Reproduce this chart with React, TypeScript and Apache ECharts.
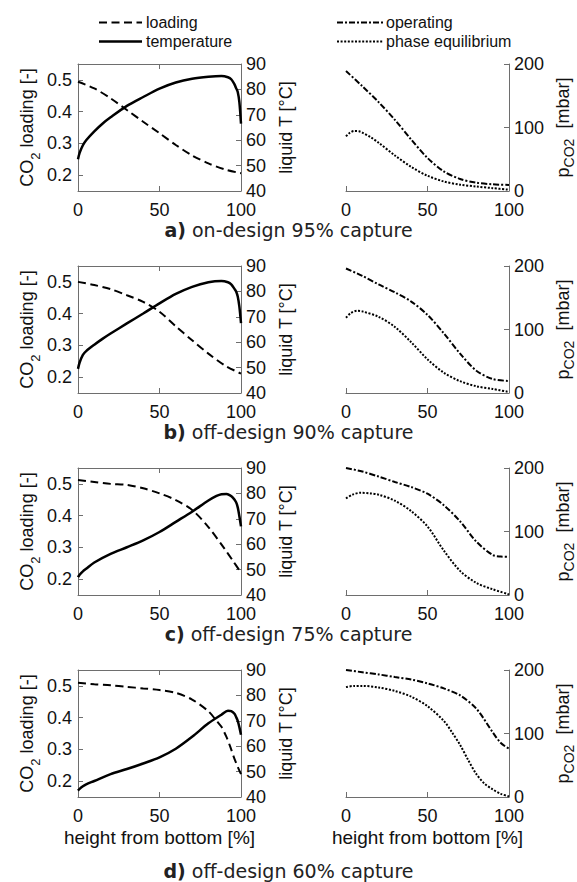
import React, { useEffect, useRef } from 'react';
import * as echarts from 'echarts';

// ---------- data ----------
const loadingTicks = [0.2, 0.3, 0.4, 0.5];

// panel a) on-design 95% capture
const loadX_a = [0, 10, 20, 30, 40, 50, 60, 70, 80, 90, 100];
const load_a = [0.494, 0.473, 0.442, 0.405, 0.368, 0.332, 0.295, 0.262, 0.237, 0.218, 0.206];
const tempX_a = [0, 1, 3, 5, 10, 15, 20, 30, 40, 50, 60, 70, 80, 88, 92, 94, 96, 97, 98, 99, 100];
const temp_a = [52.5, 55, 58, 60, 63.5, 66.5, 69, 73.5, 77, 80.3, 82.7, 84.2, 85, 85.3, 84.8, 84, 82, 80.5, 79, 75, 66.5];
const opX_a = [0, 10, 20, 30, 40, 50, 60, 70, 80, 90, 100];
const op_a = [189, 165, 140, 112, 81, 52, 31, 19, 13, 10.5, 9.5];
const eqX_a = [0, 2, 5, 8, 10, 15, 20, 30, 40, 50, 60, 70, 80, 90, 100];
const eq_a = [86, 91, 94.5, 94, 92, 85, 76, 56, 38, 24, 15, 10, 7, 4.5, 2];

// panel b) off-design 90% capture
const loadX_b = [0, 10, 20, 30, 40, 50, 60, 70, 80, 90, 100];
const load_b = [0.5, 0.49, 0.477, 0.458, 0.437, 0.406, 0.36, 0.316, 0.274, 0.237, 0.211];
const tempX_b = [0, 1, 3, 5, 10, 15, 20, 30, 40, 50, 60, 70, 80, 88, 92, 94, 96, 97, 98, 99, 100];
const temp_b = [49.5, 52, 55, 56.5, 59, 61.3, 63.4, 67.4, 71.3, 75.3, 79, 81.8, 83.6, 84.1, 83.6, 82.8, 81, 80, 78, 74, 67.5];
const opX_b = [0, 10, 20, 30, 40, 50, 60, 70, 80, 90, 100];
const op_b = [196, 184.5, 171, 158.5, 144, 123, 94, 62, 35, 22, 19];
const eqX_b = [0, 3, 7, 10, 20, 30, 40, 50, 60, 70, 80, 90, 100];
const eq_b = [118.5, 126, 129.5, 128.5, 120, 104, 80, 53, 32, 18.6, 10.6, 6.4, 1.6];

// panel c) off-design 75% capture
const loadX_c = [0, 10, 20, 30, 40, 50, 60, 70, 80, 90, 95, 100];
const load_c = [0.512, 0.506, 0.5, 0.497, 0.486, 0.47, 0.449, 0.418, 0.364, 0.295, 0.258, 0.22];
const tempX_c = [0, 1, 3, 5, 10, 20, 30, 40, 50, 60, 70, 80, 85, 88, 91, 93, 95, 97, 98, 99, 100];
const temp_c = [47, 48, 49.3, 50.3, 52.8, 56.2, 58.8, 61.5, 64.8, 68.8, 72.8, 77.2, 79, 79.7, 79.8, 79.3, 78.3, 76.5, 74.5, 71, 67];
const opX_c = [0, 10, 20, 30, 40, 50, 60, 70, 80, 90, 95, 100];
const op_c = [200, 194.5, 186.5, 178, 170, 159.5, 141.5, 116, 84, 63, 60.5, 60];
const eqX_c = [0, 4, 9, 15, 20, 30, 40, 50, 60, 70, 80, 90, 100];
const eq_c = [152, 158, 161, 160, 158, 148.5, 132, 108, 70, 38, 19, 9, 1];

// panel d) off-design 60% capture
const loadX_d = [0, 10, 20, 30, 40, 50, 60, 70, 80, 85, 88, 91, 93.5, 96, 98, 100];
const load_d = [0.51, 0.505, 0.502, 0.497, 0.492, 0.487, 0.478, 0.457, 0.42, 0.39, 0.371, 0.34, 0.307, 0.27, 0.245, 0.222];
const tempX_d = [0, 1, 3, 5, 10, 20, 30, 40, 50, 60, 70, 80, 88, 92, 94, 96, 97, 98, 99, 100];
const temp_d = [42.5, 43.2, 44.2, 45, 46.3, 49, 51, 53.2, 55.6, 59, 63.7, 69, 72.4, 74, 73.8, 72.8, 71.5, 70, 67.5, 64.5];
const opX_d = [0, 10, 20, 30, 40, 50, 60, 70, 80, 90, 95, 100];
const op_d = [200, 196.5, 193, 189, 185, 179, 171, 160, 139, 102, 85, 76];
const eqX_d = [0, 5, 10, 20, 30, 40, 50, 60, 65, 70, 75, 80, 85, 90, 95, 100];
const eq_d = [173, 175, 175, 172.5, 167, 158, 143, 120, 102, 82, 58, 36, 21, 12, 5, 1];

const panelTitles = [
  '{b|a)} on-design 95% capture',
  '{b|b)} off-design 90% capture',
  '{b|c)} off-design 75% capture',
  '{b|d)} off-design 60% capture',
];
const legendNames = ['loading', 'temperature', 'operating', 'phase equilibrium'];

const panels = [
  { loadX: loadX_a, load: load_a, tempX: tempX_a, temp: temp_a, opX: opX_a, op: op_a, eqX: eqX_a, eq: eq_a },
  { loadX: loadX_b, load: load_b, tempX: tempX_b, temp: temp_b, opX: opX_b, op: op_b, eqX: eqX_b, eq: eq_b },
  { loadX: loadX_c, load: load_c, tempX: tempX_c, temp: temp_c, opX: opX_c, op: op_c, eqX: eqX_c, eq: eq_c },
  { loadX: loadX_d, load: load_d, tempX: tempX_d, temp: temp_d, opX: opX_d, op: op_d, eqX: eqX_d, eq: eq_d },
];

// ---------- styling ----------
const FONT = "'Liberation Sans', Arial, Helvetica, sans-serif";
const TITLE_FONT = "'DejaVu Sans', Verdana, sans-serif";
const AXIS_COLOR = '#6e6e6e';
const TEXT_COLOR = '#111';
const GRID_TOPS = [64, 266, 468, 670];
const GRID_H = 127;
const LEFT_X = 78;
const RIGHT_X = 346;
const GRID_W = 163;

const DASH_LOAD = [8, 4.5];
const DASH_OP = [6, 2, 2, 2];
const DASH_EQ = [2, 1.6];

const pairs = (xs: number[], ys: number[]) => xs.map((x, i) => [x, ys[i]]);

function buildOption() {
  const grid: any[] = [];
  const xAxis: any[] = [];
  const yAxis: any[] = [];
  const series: any[] = [];
  const title: any[] = [];

  const axisLine = { show: true, onZero: false, lineStyle: { color: AXIS_COLOR, width: 1 } };
  const axisTick = { show: true, inside: true, length: 5, lineStyle: { color: AXIS_COLOR, width: 1 } };
  const axisLabel = { color: TEXT_COLOR, fontFamily: FONT, fontSize: 18, margin: 6, lineHeight: 16 };
  const noSplit = { show: false };
  const nameStyle = { color: TEXT_COLOR, fontFamily: FONT, fontSize: 18 };

  panels.forEach((p, i) => {
    const top = GRID_TOPS[i];
    const last = i === panels.length - 1;
    grid.push({ left: LEFT_X, top, width: GRID_W, height: GRID_H, outerBoundsMode: 'none', containLabel: false });
    grid.push({ left: RIGHT_X, top, width: GRID_W, height: GRID_H, outerBoundsMode: 'none', containLabel: false });
    const gL = 2 * i;
    const gR = 2 * i + 1;

    const xBottom = (gridIndex: number) => ({
      type: 'value', gridIndex, min: 0, max: 100, interval: 50, position: 'bottom',
      axisLine, axisTick, axisLabel: { ...axisLabel, margin: 11 }, splitLine: noSplit,
      name: last ? 'height from bottom [%]' : '', nameLocation: 'middle', nameGap: 31,
      nameTextStyle: { ...nameStyle, fontSize: 19 }, nameMoveOverlap: false,
    });
    xAxis.push(xBottom(gL)); // 3i
    xAxis.push({ // 3i+1 top border
      type: 'value', gridIndex: gL, min: 0, max: 100, interval: 50, position: 'top',
      axisLine, axisTick, axisLabel: { show: false }, splitLine: noSplit,
    });
    xAxis.push(xBottom(gR)); // 3i+2

    yAxis.push({ // 3i loading
      type: 'value', gridIndex: gL, position: 'left', min: 0.15, max: 0.55,
      axisLine, axisTick: { ...axisTick, customValues: loadingTicks },
      axisLabel: { ...axisLabel, customValues: loadingTicks, formatter: (v: number) => v.toFixed(1) },
      splitLine: noSplit,
      name: '{m|CO}{s|2}{m| loading [-]}', nameLocation: 'middle', nameRotate: 90, nameGap: 36,
      nameMoveOverlap: false,
      nameTextStyle: {
        ...nameStyle,
        rich: {
          m: { fontFamily: FONT, fontSize: 18, color: TEXT_COLOR, lineHeight: 30 },
          s: { fontFamily: FONT, fontSize: 13, color: TEXT_COLOR, lineHeight: 13, verticalAlign: 'bottom' },
        },
      },
    });
    yAxis.push({ // 3i+1 temperature
      type: 'value', gridIndex: gL, position: 'right', min: 40, max: 90, interval: 10,
      axisLine, axisTick, axisLabel: { ...axisLabel, margin: 5 }, splitLine: noSplit,
      name: 'liquid T [°C]', nameLocation: 'middle', nameRotate: 90, nameGap: 36,
      nameMoveOverlap: false, nameTextStyle: nameStyle,
    });
    yAxis.push({ // 3i+2 pressure
      type: 'value', gridIndex: gR, position: 'right', min: 0, max: 200, interval: 100,
      axisLine, axisTick, axisLabel: { ...axisLabel, margin: 5 }, splitLine: noSplit,
      name: '{m|p}{s|CO2}{m|  [mbar]}', nameLocation: 'middle', nameRotate: 90, nameGap: 41,
      nameMoveOverlap: false,
      nameTextStyle: {
        ...nameStyle,
        rich: {
          m: { fontFamily: FONT, fontSize: 18, color: TEXT_COLOR, lineHeight: 26 },
          s: { fontFamily: FONT, fontSize: 14, color: TEXT_COLOR, lineHeight: 14, verticalAlign: 'bottom' },
        },
      },
    });

    const common = { type: 'line', showSymbol: false, symbol: 'none', smooth: 0.3, silent: true };
    series.push({ ...common, name: legendNames[0], xAxisIndex: 3 * i, yAxisIndex: 3 * i,
      data: pairs(p.loadX, p.load), lineStyle: { color: '#000', width: 2, type: DASH_LOAD } });
    series.push({ ...common, name: legendNames[1], xAxisIndex: 3 * i, yAxisIndex: 3 * i + 1,
      data: pairs(p.tempX, p.temp), lineStyle: { color: '#000', width: 2.5, type: 'solid' } });
    series.push({ ...common, name: legendNames[2], xAxisIndex: 3 * i + 2, yAxisIndex: 3 * i + 2,
      data: pairs(p.opX, p.op), lineStyle: { color: '#000', width: 2, type: DASH_OP } });
    series.push({ ...common, name: legendNames[3], xAxisIndex: 3 * i + 2, yAxisIndex: 3 * i + 2,
      data: pairs(p.eqX, p.eq), lineStyle: { color: '#000', width: 2, type: DASH_EQ } });

    title.push({
      text: panelTitles[i], left: 'center', top: (last ? top + GRID_H + 64 : top + GRID_H + 29), padding: 0,
      textStyle: {
        fontFamily: TITLE_FONT, fontSize: 19, fontWeight: 'normal', color: '#222',
        rich: { b: { fontFamily: TITLE_FONT, fontSize: 19, fontWeight: 'bold', color: '#222' } },
      },
    });
  });

  const legendLine = (x1: number, x2: number, y: number, width: number, dash: any) => ({
    type: 'line', silent: true,
    shape: { x1, y1: y, x2, y2: y },
    style: { stroke: '#000', lineWidth: width, lineDash: dash },
  });
  const legendText = (x: number, y: number, text: string) => ({
    type: 'text', x, y, silent: true,
    style: { text, fill: TEXT_COLOR, fontFamily: FONT, fontSize: 16, align: 'left', verticalAlign: 'middle' },
  });

  const graphic = [
    legendLine(99, 142, 22.5, 2, DASH_LOAD),
    legendText(146, 22.5, legendNames[0]),
    legendLine(99, 142, 41.5, 2.5, null),
    legendText(146, 41.5, legendNames[1]),
    legendLine(337, 383, 22.5, 2, DASH_OP),
    legendText(386, 22.5, legendNames[2]),
    legendLine(337, 383, 41.5, 2, DASH_EQ),
    legendText(386, 41.5, legendNames[3]),
  ];

  return { animation: false, backgroundColor: '#fff', grid, xAxis, yAxis, series, title, graphic };
}

export default function App() {
  const ref = useRef<HTMLDivElement>(null);
  useEffect(() => {
    if (!ref.current) return;
    const chart = echarts.init(ref.current, null, { renderer: 'svg', width: 577, height: 882 });
    chart.setOption(buildOption() as any);
    return () => chart.dispose();
  }, []);
  return (
    <div
      ref={ref}
      style={{ position: 'fixed', left: 0, top: 0, width: 577, height: 882, background: '#fff' }}
    />
  );
}
